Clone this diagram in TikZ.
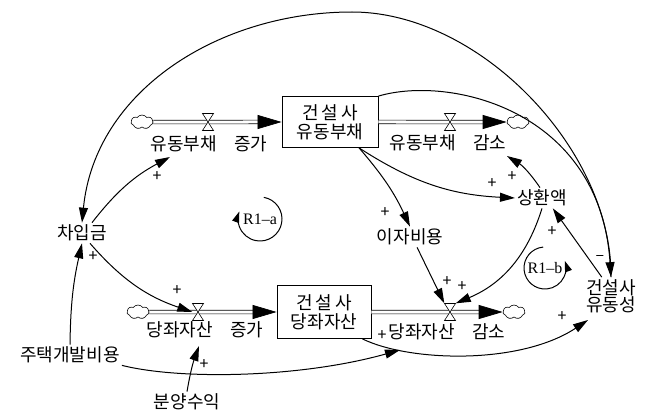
\documentclass[tikz,border=0pt]{standalone}
\usepackage{fontspec}
\newfontfamily\krfont{Noto Sans CJK KR}
\newfontfamily\serifnote{Liberation Serif}
\usetikzlibrary{arrows.meta,shapes.symbols,calc}
\newcommand\wgap{\hspace{0.95em}}
\begin{document}
\begin{tikzpicture}[x=1pt,y=-1pt,
  every node/.style={inner sep=0pt},
  kr/.style={font={\krfont\fontsize{18}{20}\selectfont}},
  var/.style={kr, inner sep=2pt},
  stock/.style={draw, line width=0.8pt, align=center, font={\krfont\fontsize{18}{19}\selectfont}},
  cloudnode/.style={cloud, cloud puffs=7, cloud puff arc=110, aspect=1.6, draw, line width=0.6pt, minimum width=22pt, minimum height=14pt},
  valvebox/.style={minimum width=11pt, minimum height=17pt},
  valve/.pic={\draw[line width=0.6pt, fill=white] (-5.5,-8.5) -- (5.5,-8.5) -- (-5.5,8.5) -- (5.5,8.5) -- cycle;},
  pipe/.style={double, double distance=3pt, line width=0.7pt, -{Triangle[length=24pt,width=14pt]}},
  link/.style={line width=1pt, -{Triangle[length=15pt,width=9pt]}},
  loopline/.style={line width=1pt, -{Triangle[length=11pt,width=7pt]}},
  sign/.style={font={\krfont\fontsize{16}{16}\selectfont}},
  looplabel/.style={font={\serifnote\fontsize{16}{16}\selectfont}}]

\useasboundingbox (0,0) rectangle (654,412);

% stocks
\node[stock, minimum width=96pt, minimum height=51pt] (s1) at (330,122) {건\kern3pt 설\kern3pt 사\\유동부채};
\node[stock, minimum width=94pt, minimum height=53pt] (s2) at (324,312) {건\kern3pt 설\kern3pt 사\\당좌자산};

% sources and sinks
\node[cloudnode] (c1) at (142,122) {};
\node[cloudnode] (c2) at (518,122) {};
\node[cloudnode] (c3) at (138,312) {};
\node[cloudnode] (c4) at (514,312) {};

% valve positions
\node[valvebox] (v1) at (208,122) {};
\node[valvebox] (v2) at (450,122) {};
\node[valvebox] (v3) at (198,312) {};
\node[valvebox] (v4) at (450,312) {};

% flow pipes
\draw[pipe] (c1.east) -- (s1.west);
\draw[pipe] (s1.east) -- (c2.west);
\draw[pipe] (c3.east) -- (s2.west);
\draw[pipe] (s2.east) -- (c4.west);
\foreach \v in {v1,v2,v3,v4} \pic at (\v) {valve};

% flow labels
\node[kr] (l1) at (209,144) {유동부채\wgap 증가};
\node[kr] (l2) at (448,143) {유동부채\wgap 감소};
\node[kr] (l3) at (205,330) {당좌자산\wgap 증가};
\node[kr] (l4) at (447,332) {당좌자산\wgap 감소};

% auxiliary variables
\node[var] (a) at (82,233) {차입금};
\node[var] (h) at (70,355) {주택개발비용};
\node[var] (b) at (187,402) {분양수익};
\node[var] (i) at (410,237) {이자비용};
\node[var] (r) at (542,198) {상환액};
\node[var, align=center, font={\krfont\fontsize{18}{17}\selectfont}] (q) at (611,296) {건설사\\유동성};

% arrow targets beside flow labels
\coordinate (l1in) at (170,157);
\coordinate (l2in) at (507,156);
\coordinate (l3in) at (199,346);
\coordinate (l4in) at (400,350);
\coordinate (qin) at (588,320);

% causal links
\draw[link] (q.north) .. controls (612,150) and (480,12) .. (352,12)
                      .. controls (220,12) and (95,90) .. (a.north);
\draw[link] (s1.north east) .. controls (450,75) and (600,110) .. (q.north);
\draw[link] ($(a.north)+(10,0)$) to[bend left=12] (l1in);
\draw[link] ($(a.south)+(8,0)$) to[bend right=15] (v3.west);
\draw[link] (h.north) to[bend left=6] (a.south);
\draw[link] (h.south east) .. controls (180,380) and (300,378) .. (l4in);
\draw[link] (b.north) to[bend left=5] (l3in);
\draw[link] ($(s1.south)!0.6!(s1.south east)$) to[bend left=8] (i.north);
\draw[link] ($(s1.south)!0.6!(s1.south east)$) to[bend right=15] (r.west);
\draw[link] ($(r.north)+(-2,0)$) to[bend right=12] (l2in);
\draw[link] (r.south) to[bend left=25] (v4.north east);
\draw[link] ($(i.south)!0.2!(i.south east)$) -- (v4.north west);
\draw[link] ($(q.north west)!0.33!(q.north east)$) -- ($(r.south)!0.4!(r.south east)$);
\draw[link] ($(s2.south east)+(-9,0)$) .. controls (410,362) and (520,365) .. (qin);

% polarities
\node[sign] (p1) at (157,177) {+};
\node[sign] (p2) at (93,257) {+};
\node[sign] (p3) at (177,291) {+};
\node[sign] (p4) at (204,365) {+};
\node[sign] (p5) at (382,336) {+};
\node[sign] (p6) at (385,213) {+};
\node[sign] (p7) at (492,184) {+};
\node[sign] (p8) at (512,177) {+};
\node[sign] (p9) at (552,232) {+};
\node[sign] (p10) at (600,258) {–};
\node[sign] (p11) at (447,282) {+};
\node[sign] (p12) at (462,287) {+};
\node[sign] (p13) at (562,317) {+};

% loop markers
\coordinate (ra) at (260,219);
\draw[loopline] ($(ra)+(80:22pt)$) arc[start angle=80, end angle=-200, radius=22pt];
\node[looplabel] (ral) at (ra) {R1–a};
\coordinate (rb) at (545,268);
\draw[loopline] ($(rb)+(95:21pt)$) arc[start angle=95, end angle=380, radius=21pt];
\node[looplabel] (rbl) at (rb) {R1–b};
\end{tikzpicture}
\end{document}
